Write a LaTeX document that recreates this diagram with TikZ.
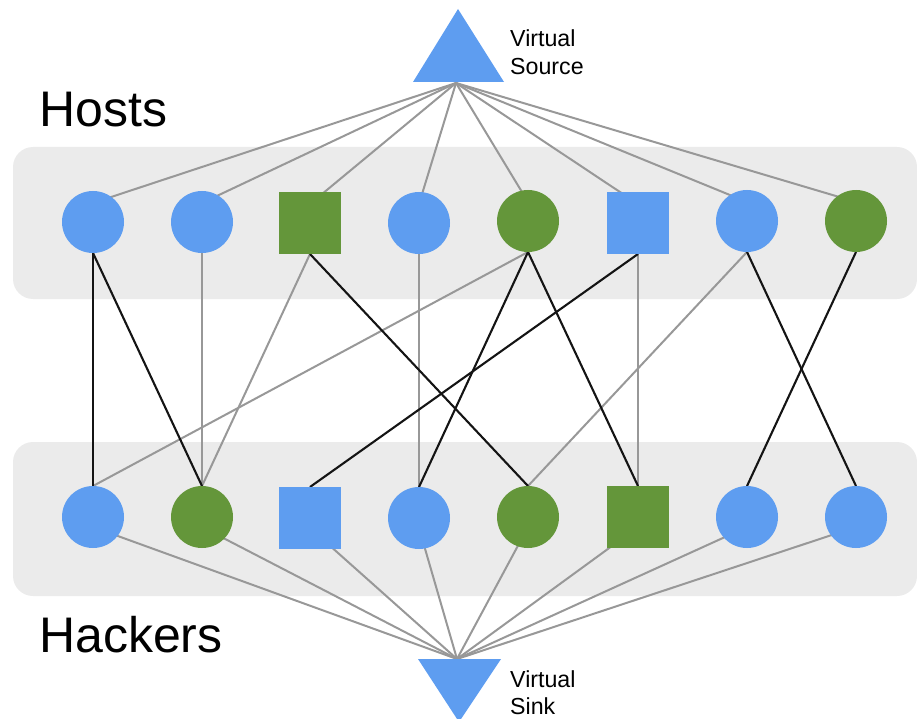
\documentclass[tikz,border=0pt]{standalone}
\usepackage{fontspec}
\setmainfont{Liberation Sans}
\usetikzlibrary{calc,backgrounds}
\definecolor{nodeblue}{RGB}{94,157,240}
\definecolor{nodegreen}{RGB}{100,150,58}
\definecolor{bandgray}{RGB}{235,235,235}
\definecolor{linkgray}{RGB}{152,152,152}
\definecolor{linkdark}{RGB}{20,20,20}
\begin{document}
\begin{tikzpicture}[x=1pt,y=-1pt,
  vnode/.style={inner sep=0pt, outer sep=0pt, minimum size=62pt, draw=none},
  bcirc/.style={vnode, circle, fill=nodeblue},
  gcirc/.style={vnode, circle, fill=nodegreen},
  bsq/.style={vnode, rectangle, fill=nodeblue},
  gsq/.style={vnode, rectangle, fill=nodegreen},
  band/.style={fill=bandgray, rounded corners=20pt},
  softlink/.style={draw=linkgray, line width=2pt},
  hardlink/.style={draw=linkdark, line width=2.1pt},
  terminal/.style={fill=nodeblue},
  smalllbl/.style={inner sep=0pt, anchor=base west, font=\fontsize{23.2}{28}\selectfont},
  biglbl/.style={inner sep=0pt, anchor=base west, font=\fontsize{50}{60}\selectfont},
]
\useasboundingbox (0,0) rectangle (917,719);

% virtual source and sink triangles
\fill[terminal] (458,9) -- (504,82) -- (413,82) -- cycle;
\fill[terminal] (418,659) -- (501,659) -- (459,722) -- cycle;
\coordinate (src) at (456,83);
\coordinate (snk) at (457,659);

% labels
\node[smalllbl] (srcA) at (510,47) {Virtual};
\node[smalllbl] (srcB) at (510,75) {Source};
\node[smalllbl] (snkA) at (510,687) {Virtual};
\node[smalllbl] (snkB) at (510,714) {Sink};
\node[biglbl] (hostslbl) at (39,127) {Hosts};
\node[biglbl] (hackerslbl) at (39,652) {Hackers};

% host row
\node[bcirc] (h1) at (93,222) {};
\node[bcirc] (h2) at (202,222) {};
\node[gsq]   (h3) at (310,223) {};
\node[bcirc] (h4) at (419,223) {};
\node[gcirc] (h5) at (528,221) {};
\node[bsq]   (h6) at (638,223) {};
\node[bcirc] (h7) at (747,221) {};
\node[gcirc] (h8) at (856,221) {};

% hacker row
\node[bcirc] (k1) at (93,517) {};
\node[gcirc] (k2) at (202,517) {};
\node[bsq]   (k3) at (310,518) {};
\node[bcirc] (k4) at (419,518) {};
\node[gcirc] (k5) at (528,517) {};
\node[gsq]   (k6) at (638,517) {};
\node[bcirc] (k7) at (747,517) {};
\node[bcirc] (k8) at (856,517) {};

\begin{scope}[on background layer]
  % grey bands behind the two rows
  \fill[band] (13,147) rectangle (917,299);
  \fill[band] (13,442) rectangle (917,596);

  % source fans out to every host
  \foreach \n in {h1,h2,h3,h4,h5,h6,h7,h8}
    \draw[softlink] (src) -- ($(\n)+(0,-19)$);
  % every hacker feeds the sink
  \foreach \n in {k1,k2,k3,k4,k5,k6,k7,k8}
    \draw[softlink] ($(\n)+(0,10)$) -- (snk);

  % host-to-hacker links
  \draw[softlink] (h2.south) -- (k2.north);
  \draw[softlink] (h3.south) -- (k2.north);
  \draw[softlink] (h4.south) -- (k4.north);
  \draw[softlink] (h5.south) -- (k1.north);
  \draw[softlink] (h6.south) -- (k6.north);
  \draw[softlink] (h7.south) -- (k5.north);

  \draw[hardlink] (h1.south) -- (k1.north);
  \draw[hardlink] (h1.south) -- (k2.north);
  \draw[hardlink] (h3.south) -- (k5.north);
  \draw[hardlink] (h5.south) -- (k4.north);
  \draw[hardlink] (h5.south) -- (k6.north);
  \draw[hardlink] (h6.south) -- (k3.north);
  \draw[hardlink] (h7.south) -- (k8.north);
  \draw[hardlink] (h8.south) -- (k7.north);
\end{scope}
\end{tikzpicture}
\end{document}
